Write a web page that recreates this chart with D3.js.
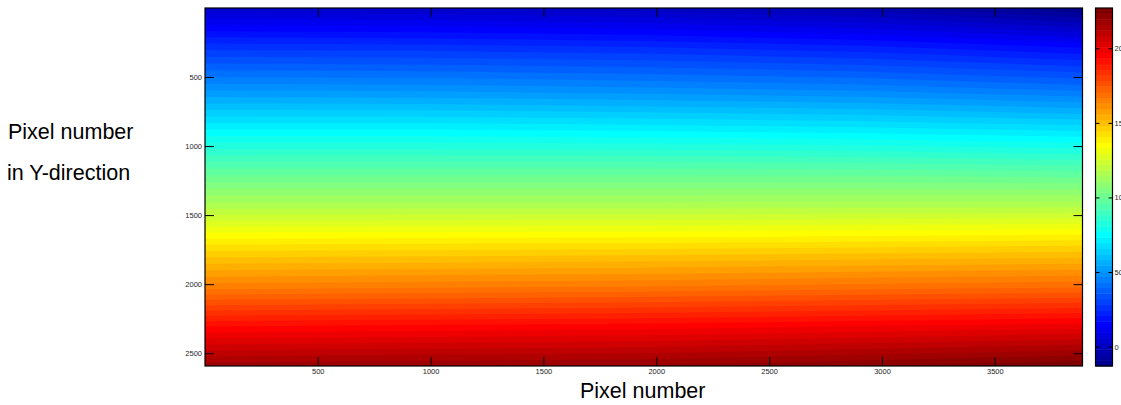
<!DOCTYPE html>
<html>
<head>
<meta charset="utf-8">
<script src="https://cdn.jsdelivr.net/npm/d3@7"></script>
<style>
body { margin: 0; background: #fff; overflow: hidden; }
text { font-family: Arial, "Liberation Sans", Helvetica, sans-serif; }
</style>
</head>
<body>
<svg id="chart" width="1121" height="405"></svg>
<script>
// sample grid (image rows / columns, in pixels)
var rowSamples = [0, 288, 576, 864, 1152, 1440, 1728, 2016, 2304, 2592];
var colSamples = [0, 972, 1944, 2916, 3888];

// values down each sampled column
var leftEdge     = [3, 27, 49, 72, 95, 117, 142, 165, 193, 218];
var quarter      = [2, 26.5, 48.5, 72, 95, 117, 142.5, 166, 194, 219];
var middle       = [0, 25, 47, 71, 95, 117, 143, 167, 195, 220];
var threeQuarter = [-4, 22, 45, 69.5, 94.5, 117.5, 144, 168.5, 197, 223];
var rightEdge    = [-13, 17, 41, 67, 93, 118, 145, 170, 199, 227];

var xTicks = [500, 1000, 1500, 2000, 2500, 3000, 3500];
var yTicks = [500, 1000, 1500, 2000, 2500];
var cbarTicks = [0, 50, 100, 150, 200];

var imgWidth = 3888, imgHeight = 2592;

var plot = {left: 205, right: 1082.5, top: 8, bottom: 366};
var cbar = {left: 1095.5, right: 1112.5};
var tickLen = 9;
var fmt = d3.format('d');

// matlab style jet colormap
function jet(n){
    var m = Math.ceil(n / 4);
    var u = d3.range(1, m + 1).map(function(k){ return k / m; })
        .concat(d3.range(m - 1).map(function(){ return 1; }))
        .concat(d3.range(m, 0, -1).map(function(k){ return k / m; }));
    var g0 = Math.ceil(m / 2) - (n % 4 === 1 ? 1 : 0);
    var cols = d3.range(n).map(function(){ return [0, 0, 0]; });
    u.forEach(function(val, k){
        var g = g0 + k + 1, r = g + m, b = g - m;
        if(g >= 1 && g <= n) cols[g - 1][1] = val;
        if(r >= 1 && r <= n) cols[r - 1][0] = val;
        if(b >= 1 && b <= n) cols[b - 1][2] = val;
    });
    return cols.map(function(c){
        return d3.rgb(c[0] * 255, c[1] * 255, c[2] * 255).formatHex();
    });
}

var nColors = 64;
var colors = jet(nColors);

var columns = [leftEdge, quarter, middle, threeQuarter, rightEdge];
var nx = colSamples.length, ny = rowSamples.length;
var grid = [];
for(var j = 0; j < ny; j++){
    for(var i = 0; i < nx; i++){
        grid.push(columns[i][j]);
    }
}
var cmin = d3.min(grid), cmax = d3.max(grid);
var step = (cmax - cmin) / nColors;
var thresholds = d3.range(nColors).map(function(i){ return cmin + i * step; });

var x = d3.scaleLinear().domain([0.5, imgWidth + 0.5]).range([plot.left, plot.right]);
var y = d3.scaleLinear().domain([0.5, imgHeight + 0.5]).range([plot.top, plot.bottom]);
// contour grid coords -> image pixels
var gx = d3.scaleLinear().domain([0.5, nx - 0.5]).range([colSamples[0], colSamples[nx - 1]]);
var gy = d3.scaleLinear().domain([0.5, ny - 0.5]).range([rowSamples[0], rowSamples[ny - 1]]);

var svg = d3.select('#chart');

svg.append('defs').append('clipPath')
    .attr('id', 'plot-clip')
    .append('rect')
    .attr('x', plot.left).attr('y', plot.top)
    .attr('width', plot.right - plot.left)
    .attr('height', plot.bottom - plot.top);

var contours = d3.contours()
    .size([nx, ny])
    .thresholds(thresholds)(grid);

var projection = d3.geoTransform({
    point: function(px, py){
        this.stream.point(x(gx(px)), y(gy(py)));
    }
});
var path = d3.geoPath(projection);

svg.append('g')
    .attr('clip-path', 'url(#plot-clip)')
    .selectAll('path')
    .data(contours)
    .enter().append('path')
    .attr('d', path)
    .attr('fill', function(d, i){ return colors[i]; });

// axes, ticks pointing inward on all four sides
function styleAxis(g){
    g.select('.domain').remove();
    g.selectAll('.tick line').attr('stroke', '#000');
    g.selectAll('.tick text')
        .attr('fill', '#262626')
        .style('font-size', '7.5px')
        .style('font-family', 'Arial, "Liberation Sans", sans-serif');
}

svg.append('g')
    .attr('transform', 'translate(0,' + plot.bottom + ')')
    .call(d3.axisBottom(x).tickValues(xTicks).tickFormat(fmt)
        .tickSizeInner(-tickLen).tickSizeOuter(0).tickPadding(3))
    .call(styleAxis);

svg.append('g')
    .attr('transform', 'translate(0,' + plot.top + ')')
    .call(d3.axisTop(x).tickValues(xTicks).tickSizeInner(-tickLen)
        .tickSizeOuter(0).tickFormat(''))
    .call(styleAxis);

svg.append('g')
    .attr('transform', 'translate(' + plot.left + ',0)')
    .call(d3.axisLeft(y).tickValues(yTicks).tickFormat(fmt)
        .tickSizeInner(-tickLen).tickSizeOuter(0).tickPadding(3))
    .call(styleAxis);

svg.append('g')
    .attr('transform', 'translate(' + plot.right + ',0)')
    .call(d3.axisRight(y).tickValues(yTicks).tickSizeInner(-tickLen)
        .tickSizeOuter(0).tickFormat(''))
    .call(styleAxis);

svg.append('rect')
    .attr('x', plot.left).attr('y', plot.top)
    .attr('width', plot.right - plot.left)
    .attr('height', plot.bottom - plot.top)
    .attr('fill', 'none')
    .attr('stroke', '#000')
    .attr('stroke-width', 1.2);

// colorbar
var c = d3.scaleLinear().domain([cmin, cmax]).range([plot.bottom, plot.top]);

svg.append('g')
    .selectAll('rect')
    .data(thresholds)
    .enter().append('rect')
    .attr('x', cbar.left)
    .attr('width', cbar.right - cbar.left)
    .attr('y', function(d){ return c(d + step); })
    .attr('height', function(d){ return c(d) - c(d + step) + 0.5; })
    .attr('fill', function(d, i){ return colors[i]; });

svg.append('g')
    .attr('transform', 'translate(' + cbar.left + ',0)')
    .call(d3.axisLeft(c).tickValues(cbarTicks).tickSizeInner(-4)
        .tickSizeOuter(0).tickFormat(''))
    .call(styleAxis);

svg.append('g')
    .attr('transform', 'translate(' + cbar.right + ',0)')
    .call(d3.axisRight(c).tickValues(cbarTicks).tickFormat(fmt)
        .tickSizeInner(-4).tickSizeOuter(0).tickPadding(2))
    .call(styleAxis);

svg.append('rect')
    .attr('x', cbar.left).attr('y', plot.top)
    .attr('width', cbar.right - cbar.left)
    .attr('height', plot.bottom - plot.top)
    .attr('fill', 'none')
    .attr('stroke', '#000')
    .attr('stroke-width', 1.2);

// axis labels
svg.append('text')
    .attr('x', 580)
    .attr('y', 398)
    .style('font-size', '21.5px')
    .attr('fill', '#000')
    .text('Pixel number');

svg.append('text')
    .attr('x', 8)
    .attr('y', 139)
    .style('font-size', '21.5px')
    .attr('fill', '#000')
    .text('Pixel number');

svg.append('text')
    .attr('x', 7)
    .attr('y', 180)
    .style('font-size', '21.5px')
    .attr('fill', '#000')
    .text('in Y-direction');
</script>
</body>
</html>
